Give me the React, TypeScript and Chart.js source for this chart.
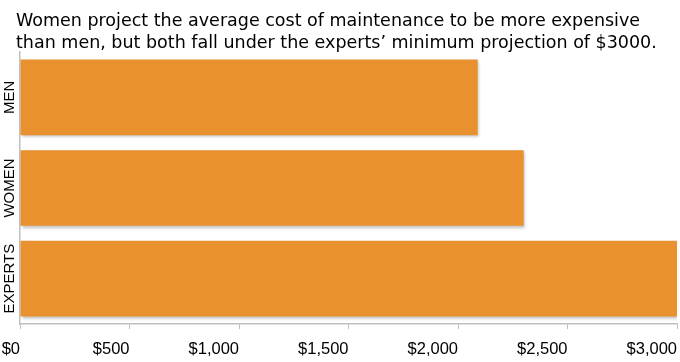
import React, { useEffect, useRef } from "react";
import { Chart, registerables } from "chart.js";

Chart.register(...registerables);

const categories = ["MEN", "WOMEN", "EXPERTS"];
const costValues = [2090, 2300, 3000];
const tickValues = [0, 500, 1000, 1500, 2000, 2500, 3000];
const titleLines = [
  "Women project the average cost of maintenance to be more expensive",
  "than men, but both fall under the experts\u2019 minimum projection of $3000.",
];

const shadowPlugin = {
  id: "barShadow",
  beforeDatasetsDraw(chart: any) {
    const ctx = chart.ctx;
    ctx.save();
    ctx.shadowColor = "rgba(0,0,0,0.25)";
    ctx.shadowBlur = 3;
    ctx.shadowOffsetX = 1;
    ctx.shadowOffsetY = 2;
  },
  afterDatasetsDraw(chart: any) {
    chart.ctx.restore();
  },
};

const textPlugin = {
  id: "textPlugin",
  afterDraw(chart: any) {
    const ctx = chart.ctx;
    ctx.save();
    // title
    ctx.fillStyle = "#000";
    ctx.font = "17.5px 'DejaVu Sans'";
    ctx.textAlign = "left";
    ctx.textBaseline = "alphabetic";
    ctx.fillText(titleLines[0], 16, 26);
    ctx.fillText(titleLines[1], 16, 48);
    // rotated category labels
    const yScale = chart.scales.y;
    ctx.font = "15px 'Liberation Sans'";
    ctx.textAlign = "center";
    ctx.textBaseline = "middle";
    categories.forEach((c, i) => {
      const y = yScale.getPixelForValue(i);
      ctx.save();
      ctx.translate(10, y);
      ctx.rotate(-Math.PI / 2);
      ctx.fillText(c, 0, 0);
      ctx.restore();
    });
    ctx.restore();
  },
};

export default function App() {
  const ref = useRef<HTMLCanvasElement | null>(null);
  useEffect(() => {
    document.body.style.margin = "0";
    const chart = new Chart(ref.current as HTMLCanvasElement, {
      type: "bar",
      data: {
        labels: categories,
        datasets: [
          {
            data: costValues,
            backgroundColor: "#E8912E",
            borderWidth: 0,
            categoryPercentage: 1,
            barPercentage: 0.835,
          },
        ],
      },
      plugins: [shadowPlugin, textPlugin],
      options: {
        indexAxis: "y",
        responsive: false,
        animation: false,
        layout: { padding: { left: 0, right: 3, top: 52, bottom: 0 } },
        plugins: {
          legend: { display: false },
          tooltip: { enabled: false },
          title: { display: false },
        },
        scales: {
          x: {
            min: 0,
            max: 3000,
            afterBuildTicks(scale: any) {
              scale.ticks = tickValues.map((v) => ({ value: v }));
            },
            afterFit(scale: any) {
              scale.height = 38;
              scale.paddingLeft = 0;
              scale.paddingRight = 0;
            },
            grid: {
              drawOnChartArea: false,
              drawTicks: true,
              tickLength: 5,
              color: "#BFBFBF",
            },
            border: { color: "#BFBFBF", width: 1.5 },
            ticks: {
              align: "end",
              color: "#000",
              padding: 11,
              font: { family: "Liberation Sans", size: 16.5 },
              callback: (v: any) => "$" + Number(v).toLocaleString("en-US"),
            },
          },
          y: {
            grid: { display: false, drawOnChartArea: false },
            border: { color: "#BFBFBF", width: 1.5 },
            ticks: { display: false },
            afterFit(scale: any) {
              scale.width = 20;
            },
          },
        },
      } as any,
    });
    return () => chart.destroy();
  }, []);
  return (
    <div style={{ position: "absolute", left: 0, top: 0, width: 680, height: 362 }}>
      <canvas ref={ref} width={680} height={362} style={{ display: "block" }} />
    </div>
  );
}
